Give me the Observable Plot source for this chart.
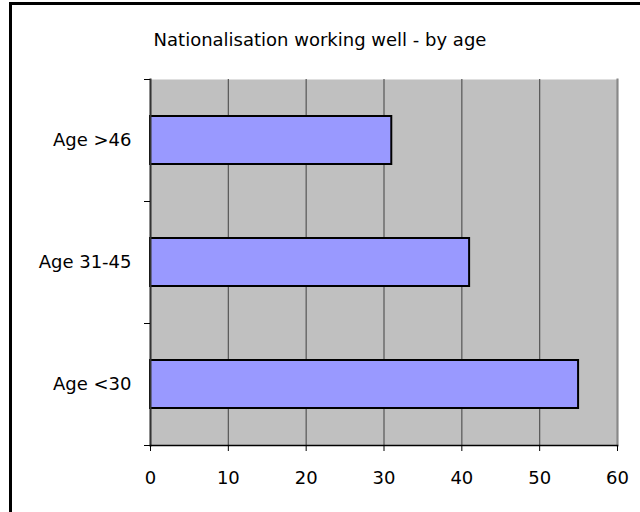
<!DOCTYPE html>
<html>
<head>
<meta charset="utf-8">
<script src="https://cdn.jsdelivr.net/npm/d3@7"></script>
<script src="https://cdn.jsdelivr.net/npm/@observablehq/plot@0.6"></script>
<style>
  html, body { margin: 0; padding: 0; background: #fff; }
  #wrap { position: relative; width: 640px; height: 512px; overflow: hidden; }
  #border { position: absolute; left: 9px; top: 2px; width: 700px; height: 600px;
            border-left: 3px solid #000; border-top: 3px solid #000; }
  #title { position: absolute; left: 0; top: 29px; width: 640px; text-align: center;
           font-family: "DejaVu Sans", sans-serif; font-size: 18px; color: #000; }
  #chart { position: absolute; left: 0; top: 0; }
</style>
</head>
<body>
<div id="wrap">
  <div id="border"></div>
  <div id="chart"></div>
  <div id="title">Nationalisation working well - by age</div>
</div>
<script>
// Share saying nationalisation is working well, per age group
const ageGroups = ["Age >46", "Age 31-45", "Age <30"];
const shares = [31, 41, 55];
const xTicks = [0, 10, 20, 30, 40, 50, 60];

const rows = ageGroups.map((group, i) => ({ group, value: shares[i] }));

const W = 640, H = 512;
const mTop = 79, mBottom = 67, mLeft = 150, mRight = 23;
const step = (H - mTop - mBottom) / ageGroups.length; // category band step
const gap = 0.607;

const chart = Plot.plot({
  width: W,
  height: H,
  marginTop: mTop,
  marginBottom: mBottom,
  marginLeft: mLeft,
  marginRight: mRight,
  style: { fontFamily: "DejaVu Sans, sans-serif", fontSize: "18px", color: "#000", background: "transparent" },
  x: { domain: [0, 60], ticks: xTicks },
  y: { domain: ageGroups, paddingInner: gap, paddingOuter: gap / 2 },
  marks: [
    Plot.frame({ fill: "#c0c0c0" }),
    Plot.gridX(xTicks, { stroke: "#555", strokeOpacity: 1, strokeWidth: 1.2 }),
    Plot.frame({ anchor: "right", stroke: "#888", strokeWidth: 2 }),
    Plot.barX(rows, { y: "group", x: "value", fill: "#9999ff", stroke: "#000", strokeWidth: 2 }),
    Plot.frame({ anchor: "left", stroke: "#333", strokeWidth: 2 }),
    Plot.frame({ anchor: "bottom", stroke: "#000", strokeWidth: 1.5 }),
    // tick marks on category boundaries
    Plot.axisY({ text: null, tickSize: 6, dy: step / 2, stroke: "#000", label: null }),
    Plot.axisY({ text: null, tickSize: 6, dy: -step / 2, stroke: "#000", label: null }),
    Plot.axisY({ tickSize: 0, tickPadding: 19, fontSize: 18, label: null }),
    Plot.axisX({ ticks: xTicks, tickSize: 6, tickPadding: 20, fontSize: 18, label: null, stroke: "#000" })
  ]
});
document.getElementById("chart").appendChild(chart);
</script>
</body>
</html>
